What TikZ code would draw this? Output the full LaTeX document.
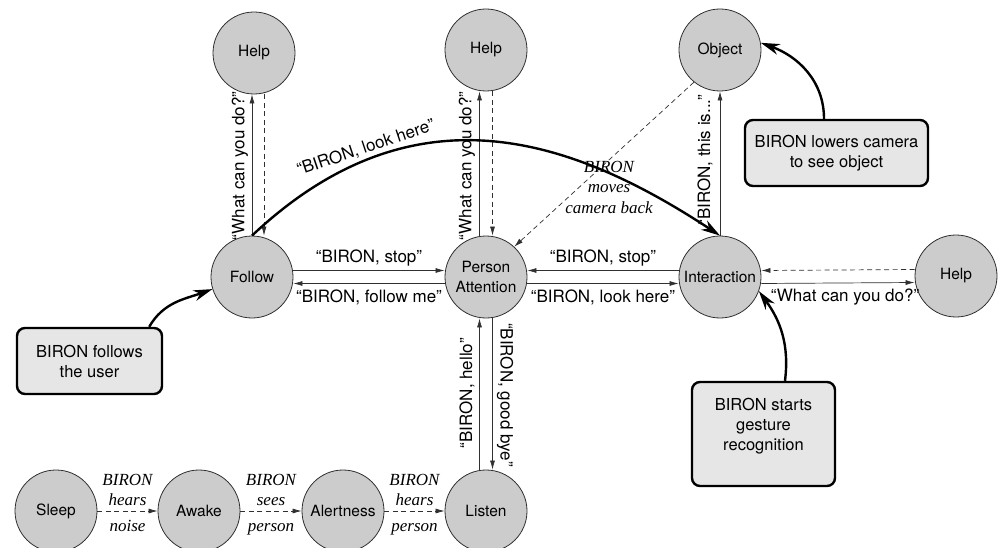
\documentclass[tikz,border=0pt]{standalone}
\usepackage{fontspec}
\setmainfont{TeX Gyre Heros}
\newfontfamily\tms{Liberation Serif}
\usetikzlibrary{arrows.meta,calc}
\definecolor{nodegray}{HTML}{CCCCCC}
\definecolor{boxgray}{HTML}{E6E6E6}
\definecolor{linegray}{HTML}{303030}
\begin{document}
\begin{tikzpicture}[x=1pt,y=1pt,
 state/.style={circle,draw=linegray,line width=0.8pt,fill=nodegray,minimum size=82pt,inner sep=0pt,font=\fontsize{15.5}{20}\selectfont,align=center},
 note/.style={draw=black,line width=2.4pt,rounded corners=8pt,fill=boxgray,font=\fontsize{16.5}{20}\selectfont,align=center,inner sep=0pt},
 tr/.style={draw=linegray,line width=0.7pt,-{Latex[length=9pt,width=5pt]}},
 trd/.style={tr,dash pattern=on 5pt off 3.5pt},
 big/.style={draw=black,line width=2.4pt,-{Stealth[length=19pt,width=11pt,inset=6pt]}},
 lbl/.style={font=\fontsize{17}{20}\selectfont,inner sep=0pt},
 it/.style={font=\tms\itshape\fontsize{17}{20.5}\selectfont,align=center,inner sep=0pt}
]
\useasboundingbox (0,0) rectangle (998,-548);
% states
\node[state] (help1) at (254,-53) {Help};
\node[state] (help2) at (486,-50) {Help};
\node[state] (object) at (720,-50) {Object};
\node[state] (follow) at (252,-277) {Follow};
\node[state] (pa) at (486,-277) {Person\\Attention};
\node[state] (inter) at (720,-277) {Interaction};
\node[state] (help3) at (956,-276) {Help};
\node[state] (sleep) at (56,-511) {Sleep};
\node[state] (awake) at (199,-511) {Awake};
\node[state] (alert) at (343,-511) {Alertness};
\node[state] (listen) at (486,-511) {Listen};
% notes
\node[note,minimum width=145pt,minimum height=66pt] (nfollow) at (89.5,-361) {BIRON follows\\the user};
\node[note,minimum width=183pt,minimum height=66pt] (ncam) at (836.5,-153) {BIRON lowers camera\\to see object};
\node[note,minimum width=143pt,minimum height=104pt] (ngest) at (763.5,-434) {BIRON starts\\gesture\\recognition\\\mbox{}};
% Follow <-> Help
\draw[tr] (follow.north) -- (follow.north |- help1.south);
\draw[trd] ([xshift=10pt]help1.south) -- ([xshift=12pt]follow.north);
\node[lbl,rotate=90] (l1) at (240,-166) {“What can you do?”};
% PA <-> Help
\draw[tr] ([xshift=-6.5pt]pa.north) -- ([xshift=-6.5pt]help2.south);
\draw[trd] ([xshift=6.5pt]help2.south) -- ([xshift=6.5pt]pa.north);
\node[lbl,rotate=90] (l2) at (467,-166) {“What can you do?”};
% Interaction -> Object
\draw[tr] (inter.north) -- (object.south);
\node[lbl,rotate=90] (l3) at (705,-160) {“BIRON, this is...”};
\draw[trd] (object.231) -- (pa.47);
\node[it] (l4) at (609,-187) {BIRON\\moves\\camera back};
% horizontal
\draw[tr] ([yshift=6.5pt]follow.east) -- node[lbl,yshift=12pt]{“BIRON, stop”} ([yshift=6.5pt]pa.west);
\draw[tr] ([yshift=-6.5pt]pa.west) -- node[lbl,yshift=-14pt]{“BIRON, follow me”} ([yshift=-6.5pt]follow.east);
\draw[tr] ([yshift=6.5pt]inter.west) -- node[lbl,yshift=12pt]{“BIRON, stop”} ([yshift=6.5pt]pa.east);
\draw[tr] ([yshift=-6.5pt]pa.east) -- node[lbl,yshift=-14pt]{“BIRON, look here”} ([yshift=-6.5pt]inter.west);
\draw[trd] ([yshift=6.5pt]help3.west) -- ([yshift=6.5pt]inter.east);
\draw[tr] ([yshift=-6.5pt]inter.east) -- node[lbl,yshift=-14pt,xshift=7pt]{“What can you do?”} ([yshift=-6.5pt]help3.west);
% PA <-> Listen
\draw[tr] ([xshift=-6.5pt]listen.north) -- ([xshift=-6.5pt]pa.south);
\draw[tr] ([xshift=6.5pt]pa.south) -- ([xshift=6.5pt]listen.north);
\node[lbl,rotate=90] (l5) at (467,-393) {“BIRON, hello”};
\node[lbl,rotate=-90] (l6) at (505,-395) {“BIRON, good bye”};
% bottom row
\draw[trd] (sleep.east) -- node[it,above=-1pt]{BIRON\\hears\strut} node[it,below=6pt]{\strut noise} (awake.west);
\draw[trd] (awake.east) -- node[it,above=-1pt]{BIRON\\sees\strut} node[it,below=6pt]{\strut person} (alert.west);
\draw[trd] (alert.east) -- node[it,above=-1pt]{BIRON\\hears\strut} node[it,below=6pt]{\strut person} (listen.west);
% big arc
\draw[big] (follow.north) .. controls (413,-84) and (570,-137) .. (inter.north);
\node[lbl,rotate=18.6] (l7) at (366,-148) {“BIRON, look here”};
% thick note arrows
\draw[big] ([xshift=-14pt]nfollow.north east) to[out=60,in=200] (follow.197);
\draw[big] ([xshift=-12.5pt]ncam.north) to[out=90,in=-20] (object.10);
\draw[big] ([xshift=21.5pt]ngest.north) to[out=83,in=-54] (inter.-20);
\end{tikzpicture}
\end{document}
